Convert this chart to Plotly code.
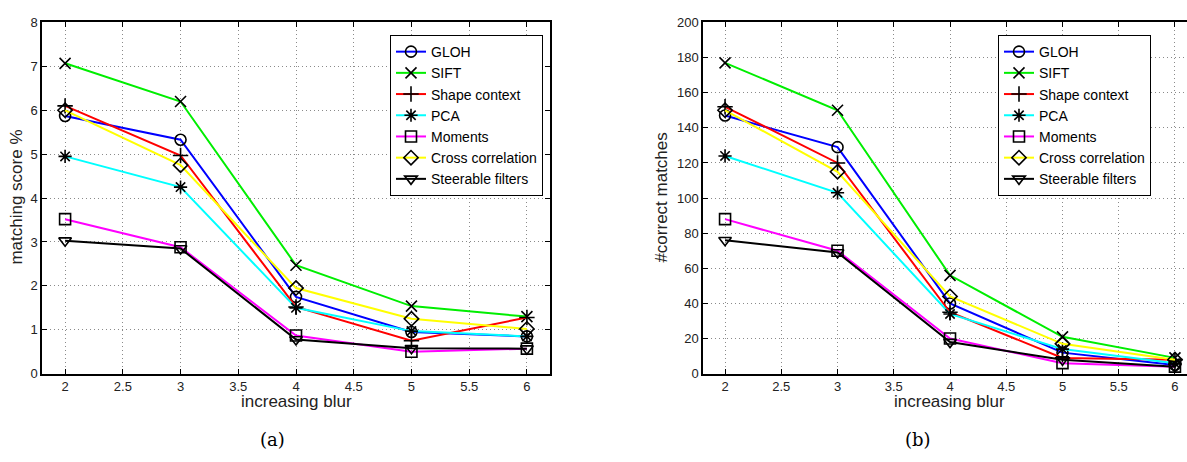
import plotly.graph_objects as go

blur = [2, 3, 4, 5, 6]
methods = ["GLOH", "SIFT", "Shape context", "PCA", "Moments", "Cross correlation", "Steerable filters"]
colors = ["#0000ff", "#00ee00", "#ff0000", "#00ffff", "#ff00ff", "#ffff00", "#000000"]
symbols = ["circle-open", "x-thin-open", "cross-thin-open", "asterisk-open",
           "square-open", "diamond-open", "triangle-down-open"]

score_gloh = [5.87, 5.33, 1.75, 0.95, 0.85]
score_sift = [7.07, 6.20, 2.47, 1.54, 1.30]
score_shape = [6.10, 4.97, 1.52, 0.75, 1.28]
score_pca = [4.95, 4.25, 1.50, 0.97, 0.85]
score_moments = [3.52, 2.88, 0.87, 0.50, 0.57]
score_cross = [6.00, 4.75, 1.95, 1.25, 1.02]
score_steer = [3.03, 2.85, 0.78, 0.58, 0.57]

match_gloh = [147, 129, 40, 12, 5]
match_sift = [177, 150, 56, 21, 9]
match_shape = [152, 120, 35, 9, 8]
match_pca = [124, 103, 34, 14, 6]
match_moments = [88, 70, 20, 6, 4]
match_cross = [150, 115, 44, 17, 8]
match_steer = [76, 69, 18, 8, 4]

scores = [score_gloh, score_sift, score_shape, score_pca, score_moments, score_cross, score_steer]
matches = [match_gloh, match_sift, match_shape, match_pca, match_moments, match_cross, match_steer]

W, H = 1187, 462
fig = go.Figure()

for i, name in enumerate(methods):
    fig.add_trace(go.Scatter(
        x=blur, y=scores[i], name=name, mode="lines+markers",
        line=dict(color=colors[i], width=2),
        marker=dict(symbol=symbols[i], size=11, color="black", line=dict(color="black", width=1.6)),
        xaxis="x", yaxis="y", legend="legend"))
for i, name in enumerate(methods):
    fig.add_trace(go.Scatter(
        x=blur, y=matches[i], name=name, mode="lines+markers",
        line=dict(color=colors[i], width=2),
        marker=dict(symbol=symbols[i], size=11, color="black", line=dict(color="black", width=1.6)),
        xaxis="x2", yaxis="y2", legend="legend2"))

ytop = 1 - 16 / H
ybot = 1 - 379 / H
font = "Liberation Sans, Arial, sans-serif"
GRIDDASH = "1px,3px"

common_x = dict(range=[1.8, 6.2], tickmode="array", tickvals=[2, 2.5, 3, 3.5, 4, 4.5, 5, 5.5, 6],
                ticktext=["2", "2.5", "3", "3.5", "4", "4.5", "5", "5.5", "6"],
                showgrid=True, gridcolor="#8a8a8a", griddash=GRIDDASH, gridwidth=1,
                showline=True, linecolor="black", linewidth=1.5, ticks="inside", ticklen=5,
                tickcolor="black", mirror="ticks", zeroline=False,
                tickfont=dict(family=font, size=13, color="#222"))

fig.update_layout(
    width=W, height=H, margin=dict(l=0, r=0, t=0, b=0),
    paper_bgcolor="white", plot_bgcolor="white",
    xaxis=dict(common_x, domain=[42 / W, 550 / W], anchor="y"),
    yaxis=dict(domain=[ybot, ytop], range=[0, 8], dtick=1, anchor="x",
               showgrid=True, gridcolor="#8a8a8a", griddash=GRIDDASH, gridwidth=1,
               showline=True, linecolor="black", linewidth=1.5, ticks="inside", ticklen=5,
               tickcolor="black", mirror="ticks", zeroline=False,
               tickfont=dict(family=font, size=13, color="#222")),
    xaxis2=dict(common_x, domain=[703 / W, 1.0], range=[1.804, 6.107], anchor="y2"),
    yaxis2=dict(domain=[ybot, ytop], range=[0, 200], dtick=20, anchor="x2",
                showgrid=True, gridcolor="#8a8a8a", griddash=GRIDDASH, gridwidth=1,
                showline=True, linecolor="black", linewidth=1.5, ticks="inside", ticklen=5,
                tickcolor="black", mirror=False, zeroline=False,
                tickfont=dict(family=font, size=13, color="#222")),
    legend=dict(x=390 / W, y=1 - 29 / H, xanchor="left", yanchor="top",
                bgcolor="white", bordercolor="black", borderwidth=1,
                font=dict(family=font, size=14, color="black"), tracegroupgap=0),
    legend2=dict(x=998 / W, y=1 - 29 / H, xanchor="left", yanchor="top",
                 bgcolor="white", bordercolor="black", borderwidth=1,
                 font=dict(family=font, size=14, color="black"), tracegroupgap=0),
)

ann = [
    dict(text="increasing blur", x=296 / W, y=1 - 408 / H),
    dict(text="increasing blur", x=949 / W, y=1 - 408 / H),
    dict(text="matching score %", x=17 / W, y=1 - 197 / H, textangle=-90),
    dict(text="#correct matches", x=662 / W, y=1 - 197 / H, textangle=-90),
]
for a in ann:
    fig.add_annotation(xref="paper", yref="paper", showarrow=False, xanchor="center", yanchor="middle",
                       font=dict(family=font, size=17, color="#222"), **a)
for txt, xc in [("(a)", 272), ("(b)", 918)]:
    fig.add_annotation(text=txt, xref="paper", yref="paper", x=xc / W, y=1 - 447 / H, showarrow=False,
                       xanchor="center", yanchor="middle",
                       font=dict(family="DejaVu Serif, Liberation Serif, serif", size=18, color="black"))

fig.write_html("out.html")
